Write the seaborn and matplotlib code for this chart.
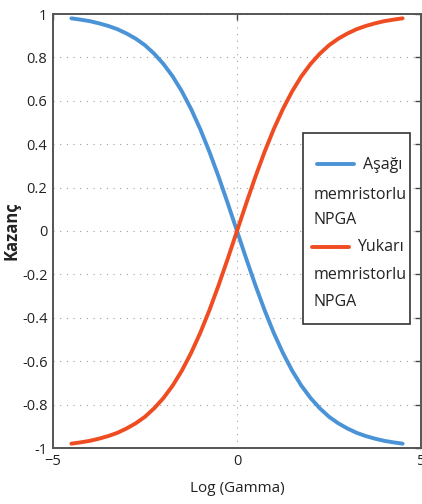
import matplotlib
matplotlib.use('Agg')
import matplotlib.pyplot as plt
from matplotlib import font_manager
from matplotlib.patches import Rectangle
import seaborn as sns

# Values
log_gamma = [-4.5, -4.25, -4.0, -3.75, -3.5, -3.25, -3.0, -2.75, -2.5, -2.25,
             -2.0, -1.75, -1.5, -1.25, -1.0, -0.75, -0.5, -0.25, 0.0,
             0.25, 0.5, 0.75, 1.0, 1.25, 1.5, 1.75, 2.0, 2.25, 2.5,
             2.75, 3.0, 3.25, 3.5, 3.75, 4.0, 4.25, 4.5]
gain_down = [0.980, 0.974, 0.967, 0.957, 0.945, 0.930, 0.910, 0.886, 0.856, 0.817,
             0.770, 0.713, 0.644, 0.563, 0.470, 0.365, 0.250, 0.127, 0.000,
             -0.127, -0.250, -0.365, -0.470, -0.563, -0.644, -0.713, -0.770, -0.817, -0.856,
             -0.886, -0.910, -0.930, -0.945, -0.957, -0.967, -0.974, -0.980]
gain_up = [-0.980, -0.974, -0.967, -0.957, -0.945, -0.930, -0.910, -0.886, -0.856, -0.817,
           -0.770, -0.713, -0.644, -0.563, -0.470, -0.365, -0.250, -0.127, 0.000,
           0.127, 0.250, 0.365, 0.470, 0.563, 0.644, 0.713, 0.770, 0.817, 0.856,
           0.886, 0.910, 0.930, 0.945, 0.957, 0.967, 0.974, 0.980]
x_ticks = [-5, 0, 5]
y_ticks = [-1, -0.8, -0.6, -0.4, -0.2, 0, 0.2, 0.4, 0.6, 0.8, 1]
y_tick_labels = ['-1', '-0.8', '-0.6', '-0.4', '-0.2', '0', '0.2', '0.4', '0.6', '0.8', '1']
series_names = [('Aşağı', 'memristorlu', 'NPGA'), ('Yukarı', 'memristorlu', 'NPGA')]

BLUE = '#4a93d6'
ORANGE = '#f04c22'


def pick_font(names):
    for name in names:
        try:
            font_manager.findfont(name, fallback_to_default=False)
            return name
        except Exception:
            continue
    return 'DejaVu Sans'


sns.set_style('white')
font = pick_font(['Liberation Sans Narrow', 'Open Sans', 'Liberation Sans'])
plt.rcParams['font.family'] = [font, 'DejaVu Sans']

fig = plt.figure(figsize=(4.22, 5.04), dpi=100)
ax = fig.add_axes([53 / 422, 56 / 504, 368 / 422, 434 / 504])

sns.lineplot(x=log_gamma, y=gain_down, color=BLUE, linewidth=2.8, ax=ax)
sns.lineplot(x=log_gamma, y=gain_up, color=ORANGE, linewidth=2.8, ax=ax)

ax.set_xlim(-5, 5)
ax.set_ylim(-1, 1)
ax.set_xticks(x_ticks)
ax.set_yticks(y_ticks)
ax.set_yticklabels(y_tick_labels)
ax.grid(True, linestyle=(0, (1, 5)), color='#a0a0a0', linewidth=0.8)
ax.tick_params(direction='in', length=4, width=1, colors='#444444',
               top=True, right=True, labelsize=10.5, pad=4)
for lab in ax.get_xticklabels() + ax.get_yticklabels():
    lab.set_color('#222222')
for sp in ax.spines.values():
    sp.set_visible(True)
    sp.set_color('#555555')
    sp.set_linewidth(1.4)

ax.set_xlabel('Log (Gamma)', fontsize=11, color='#222222', labelpad=9)
ax.set_ylabel('Kazanç', fontsize=12, fontweight='bold', color='#222222', labelpad=1)

# legend box laid out like the original (wrapped label under the handle)
ax.add_patch(Rectangle((0.679, 0.286), 0.291, 0.440, transform=ax.transAxes,
                       facecolor='white', edgecolor='#333333', linewidth=1.2, zorder=5))
entries = [
    (BLUE, (0.717, 0.818), 0.654, 0.842, [0.652, 0.583, 0.525]),
    (ORANGE, (0.704, 0.804), 0.463, 0.826, [0.463, 0.399, 0.336]),
]
for (color, hx, hy, tx, ty), words in zip(entries, series_names):
    ax.plot(hx, [hy, hy], color=color, linewidth=2.8, transform=ax.transAxes, zorder=6)
    ax.text(tx, ty[0], words[0], transform=ax.transAxes, fontsize=11.5,
            va='center', ha='left', color='#222222', zorder=6)
    for word, yy in zip(words[1:], ty[1:]):
        ax.text(0.707, yy, word, transform=ax.transAxes, fontsize=11.5,
                va='center', ha='left', color='#222222', zorder=6)

fig.savefig('out.png', dpi=100)
